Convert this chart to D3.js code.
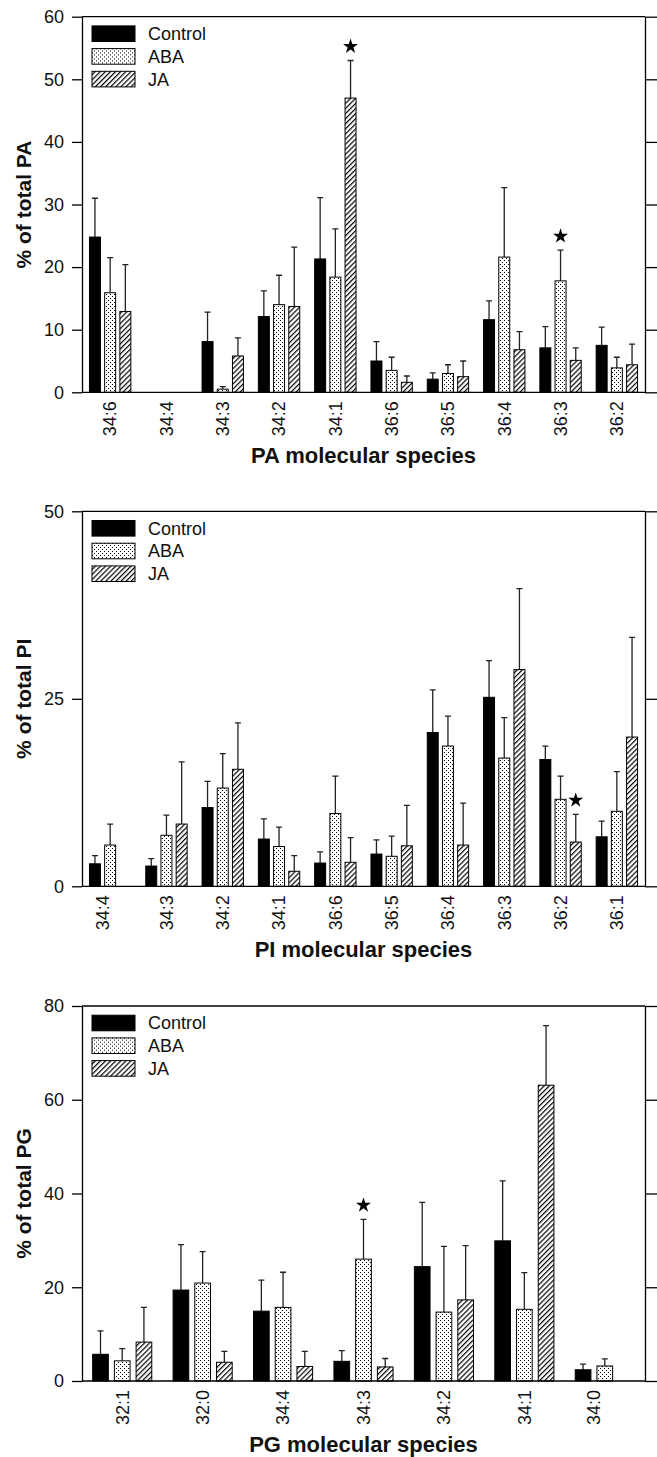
<!DOCTYPE html>
<html>
<head>
<meta charset="utf-8">
<script src="https://cdn.jsdelivr.net/npm/d3@7"></script>
<style>
  body { margin: 0; background: #fff; }
  svg { display: block; }
</style>
</head>
<body>
<div id="chart"></div>
<script>
// series shared by all three panels
var series = ["Control", "ABA", "JA"];

// PA panel
var paCategories = ["34:6", "34:4", "34:3", "34:2", "34:1", "36:6", "36:5", "36:4", "36:3", "36:2"];
var paControl    = [24.8, null, 8.1, 12.1, 21.3, 5.0, 2.1, 11.6, 7.1, 7.5];
var paControlErr = [6.2, null, 4.7, 4.1, 9.8, 3.1, 1.0, 3.0, 3.4, 2.9];
var paABA        = [15.9, null, 0.5, 14.0, 18.4, 3.5, 3.0, 21.6, 17.8, 3.9];
var paABAErr     = [5.6, null, 0.4, 4.7, 7.7, 2.1, 1.4, 11.1, 4.9, 1.7];
var paJA         = [12.9, null, 5.8, 13.7, 47.0, 1.6, 2.5, 6.8, 5.1, 4.4];
var paJAErr      = [7.5, null, 2.9, 9.5, 6.0, 1.0, 2.5, 2.9, 2.0, 3.3];
var paTicks = [0, 10, 20, 30, 40, 50, 60];
var paStars = [["34:1", "JA"], ["36:3", "ABA"]];

// PI panel
var piCategories = ["34:4", "34:3", "34:2", "34:1", "36:6", "36:5", "36:4", "36:3", "36:2", "36:1"];
var piControl    = [3.0, 2.7, 10.5, 6.3, 3.1, 4.3, 20.5, 25.2, 16.9, 6.6];
var piControlErr = [1.1, 1.0, 3.5, 2.7, 1.5, 1.9, 5.7, 4.9, 1.8, 2.1];
var piABA        = [5.5, 6.8, 13.1, 5.3, 9.7, 4.0, 18.7, 17.1, 11.6, 10.0];
var piABAErr     = [2.8, 2.7, 4.6, 2.6, 5.0, 2.7, 4.0, 5.4, 3.1, 5.3];
var piJA         = [null, 8.3, 15.6, 2.0, 3.2, 5.4, 5.5, 28.9, 5.9, 19.9];
var piJAErr      = [null, 8.3, 6.2, 2.1, 3.3, 5.4, 5.6, 10.8, 3.7, 13.3];
var piTicks = [0, 25, 50];
var piStars = [["36:2", "JA"]];

// PG panel
var pgCategories = ["32:1", "32:0", "34:4", "34:3", "34:2", "34:1", "34:0"];
var pgControl    = [5.7, 19.4, 14.9, 4.2, 24.4, 29.9, 2.4];
var pgControlErr = [5.0, 9.7, 6.6, 2.3, 13.7, 12.8, 1.2];
var pgABA        = [4.3, 20.9, 15.7, 26.0, 14.7, 15.3, 3.2];
var pgABAErr     = [2.6, 6.7, 7.5, 8.5, 14.0, 7.8, 1.5];
var pgJA         = [8.3, 4.0, 3.1, 3.0, 17.3, 63.1, null];
var pgJAErr      = [7.4, 2.3, 3.2, 1.8, 11.6, 12.7, null];
var pgTicks = [0, 20, 40, 60, 80];
var pgStars = [["34:3", "ABA"]];

var W = 657, H = 1457;
var font = "'Liberation Sans', Arial, Helvetica, sans-serif";
var left = 82, right = 645;

var svg = d3.select("#chart")
  .append("svg")
    .attr("width", W)
    .attr("height", H)
    .style("font-family", font);

// fill patterns
var defs = svg.append("defs");
var dots = defs.append("pattern")
    .attr("id", "dots")
    .attr("patternUnits", "userSpaceOnUse")
    .attr("width", 4).attr("height", 4);
dots.append("rect").attr("width", 4).attr("height", 4).attr("fill", "#fff");
dots.append("rect").attr("x", 0).attr("y", 0).attr("width", 1).attr("height", 1).attr("fill", "#000");
dots.append("rect").attr("x", 2).attr("y", 2).attr("width", 1).attr("height", 1).attr("fill", "#000");

var hatch = defs.append("pattern")
    .attr("id", "hatch")
    .attr("patternUnits", "userSpaceOnUse")
    .attr("width", 3.6).attr("height", 3.6)
    .attr("patternTransform", "rotate(45)");
hatch.append("rect").attr("width", 3.6).attr("height", 3.6).attr("fill", "#fff");
hatch.append("line")
    .attr("x1", 0.6).attr("y1", 0).attr("x2", 0.6).attr("y2", 3.6)
    .attr("stroke", "#000").attr("stroke-width", 1.2);

var fills = {Control: "#000", ABA: "url(#dots)", JA: "url(#hatch)"};

function drawPanel(opt) {
  var top = opt.top, bottom = opt.bottom;
  var g = svg.append("g");

  var x = d3.scaleBand()
      .domain(opt.categories)
      .range([left, right]);
  var band = x.bandwidth();
  var barW = band * 0.195;
  var sub = d3.scalePoint()
      .domain(series)
      .range([-band * 0.27, band * 0.27]);

  var y = d3.scaleLinear()
      .domain([0, opt.ticks[opt.ticks.length - 1]])
      .range([bottom, top]);

  var rows = opt.categories.map(function(c, i) {
    return {
      cat: c,
      vals: [
        {s: "Control", v: opt.control[i], e: opt.controlErr[i]},
        {s: "ABA", v: opt.aba[i], e: opt.abaErr[i]},
        {s: "JA", v: opt.ja[i], e: opt.jaErr[i]}
      ]
    };
  });

  // bars
  var bars = [];
  rows.forEach(function(r) {
    r.vals.forEach(function(d) {
      if (d.v != null) bars.push({cat: r.cat, s: d.s, v: d.v, e: d.e});
    });
  });
  function cx(d) { return x(d.cat) + band / 2 + sub(d.s); }

  g.selectAll(".err")
    .data(bars)
    .enter()
    .append("path")
      .attr("d", function(d) {
        var xc = cx(d), y1 = y(d.v), y2 = y(d.v + d.e);
        return "M" + xc + "," + y1 + "V" + y2 + "M" + (xc - 3) + "," + y2 + "H" + (xc + 3);
      })
      .attr("fill", "none")
      .attr("stroke", "#222")
      .attr("stroke-width", 1.3);

  g.selectAll(".bar")
    .data(bars)
    .enter()
    .append("rect")
      .attr("x", function(d) { return cx(d) - barW / 2; })
      .attr("y", function(d) { return y(d.v); })
      .attr("width", barW)
      .attr("height", function(d) { return y(0) - y(d.v); })
      .attr("fill", function(d) { return fills[d.s]; })
      .attr("stroke", "#000")
      .attr("stroke-width", 1);

  // significance stars
  var star = d3.symbol().type(d3.symbolStar).size(70);
  opt.stars.forEach(function(st) {
    var d = bars.filter(function(b) { return b.cat === st[0] && b.s === st[1]; })[0];
    g.append("path")
      .attr("d", star)
      .attr("transform", "translate(" + cx(d) + "," + (y(d.v + d.e) - 14) + ")")
      .attr("fill", "#000");
  });

  // axes
  g.append("g")
    .attr("transform", "translate(" + left + ",0)")
    .call(d3.axisLeft(y).tickValues(opt.ticks).tickSize(10).tickSizeOuter(0).tickPadding(8))
    .call(function(a) {
      a.select(".domain").attr("stroke-width", 1.3);
      a.selectAll(".tick line").attr("stroke-width", 1.3);
      a.selectAll("text").attr("font-size", 18).attr("fill", "#111").style("font-family", font);
    });
  g.append("g")
    .attr("transform", "translate(" + right + ",0)")
    .call(d3.axisRight(y).tickValues(opt.ticks).tickSize(12).tickSizeOuter(0).tickFormat(""))
    .call(function(a) {
      a.select(".domain").attr("stroke-width", 1.3);
      a.selectAll(".tick line").attr("stroke-width", 1.3);
    });
  [top, bottom].forEach(function(yy) {
    g.append("line")
      .attr("x1", left).attr("x2", right)
      .attr("y1", yy).attr("y2", yy)
      .attr("stroke", "#000").attr("stroke-width", 1.3);
  });

  // category labels, centred on the bars that are present
  rows.forEach(function(r) {
    var present = r.vals.filter(function(d) { return d.v != null; });
    var off = present.length ? d3.mean(present, function(d) { return sub(d.s); }) : 0;
    g.append("text")
      .attr("transform", "translate(" + (x(r.cat) + band / 2 + off) + "," + (bottom + 9) + ") rotate(-90)")
      .attr("text-anchor", "end")
      .attr("dy", "0.35em")
      .attr("font-size", 18)
      .attr("fill", "#111")
      .text(r.cat);
  });

  // titles
  g.append("text")
    .attr("x", (left + right) / 2)
    .attr("y", bottom + 71)
    .attr("text-anchor", "middle")
    .attr("font-size", 22)
    .attr("font-weight", "bold")
    .attr("fill", "#111")
    .text(opt.xTitle);
  g.append("text")
    .attr("transform", "translate(31," + ((top + bottom) / 2) + ") rotate(-90)")
    .attr("text-anchor", "middle")
    .attr("font-size", 21)
    .attr("font-weight", "bold")
    .attr("fill", "#111")
    .text(opt.yTitle);

  // legend
  var leg = g.append("g").attr("transform", "translate(92," + (top + 17) + ")");
  series.forEach(function(s, i) {
    var row = leg.append("g").attr("transform", "translate(0," + (i * 22.7) + ")");
    row.append("rect")
      .attr("x", 0).attr("y", -7.8)
      .attr("width", 43).attr("height", 15.6)
      .attr("fill", fills[s])
      .attr("stroke", "#000").attr("stroke-width", 1);
    row.append("text")
      .attr("x", 56)
      .attr("dy", "0.36em")
      .attr("font-size", 18)
      .attr("fill", "#111")
      .text(s);
  });
}

drawPanel({
  top: 16.7, bottom: 392.3,
  categories: paCategories,
  control: paControl, controlErr: paControlErr,
  aba: paABA, abaErr: paABAErr,
  ja: paJA, jaErr: paJAErr,
  ticks: paTicks, stars: paStars,
  xTitle: "PA molecular species", yTitle: "% of total PA"
});
drawPanel({
  top: 511.3, bottom: 886.3,
  categories: piCategories,
  control: piControl, controlErr: piControlErr,
  aba: piABA, abaErr: piABAErr,
  ja: piJA, jaErr: piJAErr,
  ticks: piTicks, stars: piStars,
  xTitle: "PI molecular species", yTitle: "% of total PI"
});
drawPanel({
  top: 1006, bottom: 1381,
  categories: pgCategories,
  control: pgControl, controlErr: pgControlErr,
  aba: pgABA, abaErr: pgABAErr,
  ja: pgJA, jaErr: pgJAErr,
  ticks: pgTicks, stars: pgStars,
  xTitle: "PG molecular species", yTitle: "% of total PG"
});
</script>
</body>
</html>
